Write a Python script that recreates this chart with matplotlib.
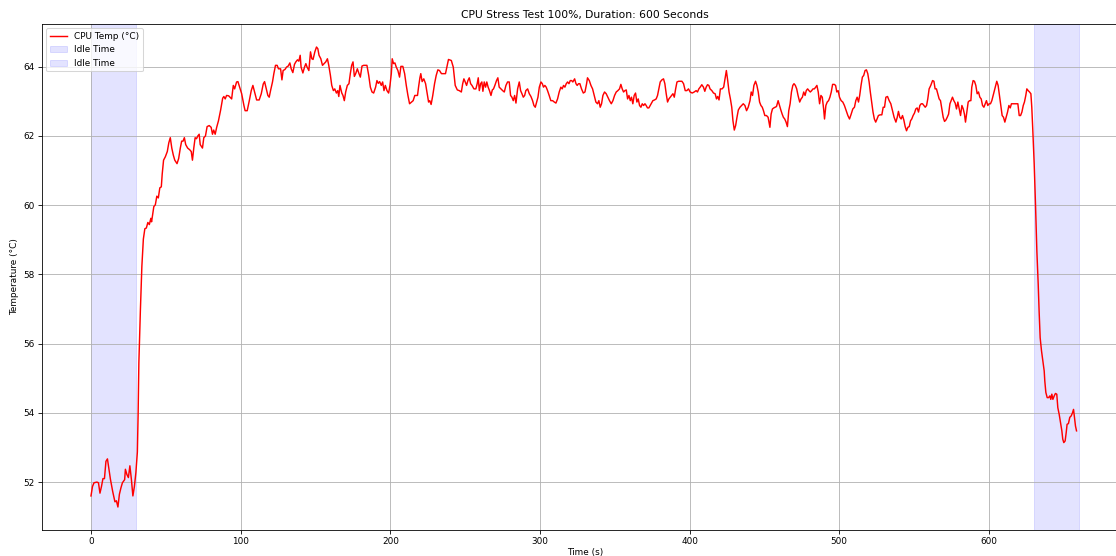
import matplotlib
matplotlib.use("Agg")
import matplotlib.pyplot as plt

title = "CPU Stress Test 100%, Duration: 600 Seconds"
x_label = "Time (s)"
y_label = "Temperature (°C)"
line_label = "CPU Temp (°C)"
idle_label = "Idle Time"
idle_periods = [(0, 30), (630, 660)]

time_s = [
    0, 1, 2, 4, 5, 6, 7, 8, 9, 10, 11, 12, 13, 14.5, 16, 17, 18, 19, 20, 21,
    22.5, 23, 24, 25, 26, 27, 28, 29, 30, 31, 31.5, 32, 33, 34, 35, 36, 37, 38, 39, 40,
    40.5, 41, 42, 43, 44, 45, 46, 47, 47.6, 48.5, 49.7, 51, 52, 53, 54, 55, 56, 57.5, 58.6, 59.7,
    60.6, 61.5, 62.4, 63.3, 64.6, 66, 67, 67.8, 68.7, 69.6, 70.5, 71.4, 72.3, 73, 74.5, 75.4, 76.5, 77.6, 79, 80.3,
    81.2, 82, 83, 84, 85.2, 86.6, 88, 88.8, 89.7, 90.6, 92,
    94, 95.1, 96, 97.3, 98.2, 99, 100.7, 102.2, 103, 104.4, 105.8, 107.1, 108.2, 109.3, 110.7, 112.4, 113.8, 115.1, 116, 116.9,
    118.2, 119.1, 120, 121.3, 122.2, 123.3, 124.4, 125.3, 126.7, 127.6, 128.4, 129.6, 130.7, 131.8, 132.9, 133.8, 134.9, 136, 136.9, 138,
    138.9, 139.8, 140.4, 141.6, 142.7, 143.6, 144.4, 145.6, 146.7, 147.6, 148.4, 149.6, 150.7, 151.6, 152.4, 153.6, 154.7, 155.8, 156.9, 158,
    158.9, 160, 160.9, 162, 162.9, 164, 164.9, 165.6, 166.4, 167.6, 168.4, 169.3, 170.2, 171.3, 172.4, 173.3, 174.2, 175.1, 176, 176.9,
    178, 179.1, 180, 181.1, 182.2, 183.6, 184.4, 185.6, 186.7, 187.8, 188.9, 190.2, 191.1, 192, 192.9, 194, 194.9, 195.8, 196.7, 197.8,
    198.9, 199.8, 200.7, 201.3, 202.2, 203.1, 204, 205.1, 206.2, 207.1, 208.4, 209.6, 210.7, 211.8, 212.9, 214.2, 215.3, 216.4, 217.3, 218.2,
    218.9, 219.8, 220.4, 221.3, 222.4, 223.6, 224.7, 225.6, 226.4, 227.3, 228.4, 229.6, 230.7, 231.8, 232.9, 234.2, 235.6, 236.9, 237.8, 238.9,
    240.8, 242.1, 243.4, 244.8, 246.1, 247.5, 248.4, 249.2, 250.1, 251, 251.9, 252.8, 253.7, 254.6, 255.9, 257.2, 258.1, 258.8, 259.5, 260.4,
    261.2, 261.9, 262.8, 263.7, 264.5, 265.4, 266.3, 267.3, 268.2, 269, 269.9, 271, 271.9, 272.8, 273.9, 275.1, 276.2, 277.3, 278.4, 279.5,
    280.4, 281.3, 282.2, 283.1, 284, 285.1, 286.2, 287.1, 288, 288.9, 289.8, 290.6, 291.8, 292.9, 294, 295.1, 296, 296.9, 297.8, 298.7,
    299.6, 300.7, 301.6, 302.4, 303.3, 304.2, 305.1, 306.2, 307.3, 308.5, 309.6, 310.7, 311.8, 312.9, 314, 314.9, 315.8, 316.7, 317.6, 318.5,
    319.4, 320.3, 321.2, 322, 323.2, 324.1, 324.9, 325.8, 326.7, 327.8, 329, 330.1, 331.2, 331.8, 333, 334.1, 335.2, 336.3, 337.4, 338.5,
    339.4, 340.3, 341.2, 342.1, 343.2, 344.3, 345.4, 346.5, 347.7, 348.8, 349.9, 351, 352.1, 353.2, 354.1, 355, 355.9, 356.8, 357.7, 358.6,
    359.5, 360.4, 361.2, 362.1, 363, 363.9, 364.8, 365.7, 366.6, 367.5, 368.4, 369.3, 370.2, 371, 371.9, 372.8, 373.7, 374.6, 375.5, 376.6,
    377.7, 378.6, 379.5, 380.4, 381.5, 382.6, 383.5, 384.4, 385.3, 386.2,
    388.9, 389.8, 390.7, 391.6, 392.7, 393.8, 394.9, 396, 397.1, 398.2, 399.3, 400.4, 401.8, 403.1, 404.4, 405.3, 406.2, 407.1, 408.2, 409.3,
    410.2, 411.1, 412, 412.9, 413.7, 414.9, 416, 417.1, 418, 418.8, 419.7, 420.6, 421.7, 422.8, 423.7, 424.6, 425.5, 426.4, 427.3, 428.2,
    429, 429.9, 430.8, 431.7, 432.6, 433.7, 434.8, 435.9, 437, 438.1, 439.2, 440.4, 441.2, 442.1, 443, 444.1, 445, 445.9, 446.8, 447.7,
    448.6, 449.4, 450.3, 451.4, 452.5, 453.7, 454.5, 455.4, 456.3, 457.2, 458.1, 459.2, 460.1, 461, 461.9, 462.7, 463.6, 464.5, 465.4, 466.3,
    467.2, 468.1, 469, 469.8, 470.7, 471.6, 472.5, 473.6, 474.5, 475.4, 476.3, 477.2, 478, 478.9, 479.8, 480.7, 481.6, 482.5, 483.4, 484.3,
    485.1, 486, 486.9, 487.8, 488.7, 489.6, 490.2, 491.1, 492, 492.9, 493.8, 494.7, 495.6, 496.7, 497.6, 498.4, 499.3, 500.2, 501.3, 502.4,
    503.5, 504.7, 505.8, 506.9, 508, 509.1, 510.2, 511.1, 512, 512.9, 513.7, 514.6, 515.5, 516.4, 517.3, 518.2, 519.1, 520, 520.8, 521.7,
    522.6, 523.5, 524.4, 525.3, 526.2,
    527.3, 528.5, 529.4, 530.3, 531.2, 532.3, 533.4, 534.5, 535.6, 536.7, 537.9, 538.8, 539.6, 540.5, 541.4, 542.3, 543.2, 544.1, 545, 545.9,
    546.8, 547.7, 548.5, 549.4, 550.3, 551.2, 552.1, 553, 553.9, 554.8, 555.7, 556.6, 557.5, 558.4, 559.2, 560.1, 561.2, 562.4, 563.3, 564.1,
    565, 565.9, 566.8, 567.7, 568.6, 569.5, 570.4, 571.3, 572.2, 573.1, 574, 574.8, 575.7, 576.6, 577.5, 578.4, 579.3, 580.2, 581.1, 582,
    582.9, 583.7, 584.4, 585.3, 586.2, 587.1, 588, 588.6, 589.5, 590.4, 591.3, 592.2, 593.1, 594, 594.9, 595.8, 596.7, 597.6, 598.4, 599.3,
    600.2, 601.1, 602, 602.9, 603.8, 604.7, 605.3, 606.2, 607.1, 608, 608.9, 609.8, 610.7, 611.6, 612.5, 613.4, 614.3, 615.1, 616, 617.1,
    618.3, 619.4, 620.3, 621.2, 622.1, 623, 623.8, 624.7, 625.4, 626.3, 627.2, 628.1, 628.7, 629.4, 630.3, 631.2,
    632.1, 633, 633.6, 634.3, 635.2, 636.1, 637, 637.4, 638.1, 639, 639.9, 640.8, 641.4, 642.1, 642.8, 643.7, 644.5, 645.4, 646.1, 647,
    647.9, 648.8, 649.4, 650.1, 651, 651.7, 652.3, 653.2, 654.1, 655, 655.9, 656.6, 657.2, 657.9, 658.6,
]

temp_c = [
    51.6, 51.87, 51.98, 52.0, 51.98, 51.68, 51.87, 52.1, 52.1, 52.6, 52.67, 52.37, 52.08, 51.73, 51.43, 51.46, 51.28, 51.65, 51.83, 51.98,
    52.07, 52.37, 52.22, 52.13, 52.47, 52.08, 51.6, 51.87, 52.27, 52.87, 53.96, 55.45, 56.94, 58.23, 59.02, 59.32, 59.34, 59.5, 59.44, 59.62,
    59.52, 59.66, 59.96, 60.01, 60.26, 60.21, 60.5, 60.53, 60.9, 61.3, 61.4, 61.55, 61.8, 61.95, 61.65, 61.45, 61.3, 61.2, 61.35, 61.65,
    61.85, 61.85, 61.95, 61.75, 61.65, 61.6, 61.55, 61.3, 61.65, 61.95, 61.92, 62.0, 62.05, 61.75, 61.65, 61.95, 62.0, 62.27, 62.3, 62.25,
    62.05, 62.17, 62.05, 62.25, 62.44, 62.74, 63.09, 63.14, 63.07, 63.17, 63.16,
    63.07, 63.46, 63.36, 63.56, 63.57, 63.46, 63.22, 62.88, 62.73, 62.73, 63.02, 63.31, 63.46, 63.27, 63.04, 63.04, 63.22, 63.5, 63.57, 63.41,
    63.17, 63.12, 63.31, 63.56, 63.8, 64.04, 64.04, 63.94, 63.94, 63.62, 63.89, 63.92, 63.99, 64.02, 64.11, 63.94, 63.83, 64.07, 64.14, 64.2,
    64.16, 64.33, 63.99, 63.82, 63.99, 64.09, 63.99, 63.89, 64.43, 64.23, 64.21, 64.43, 64.57, 64.52, 64.33, 64.23, 64.04, 64.09, 64.14, 64.23,
    64.04, 63.75, 63.46, 63.31, 63.36, 63.24, 63.31, 63.14, 63.46, 63.24, 63.17, 63.02, 63.27, 63.46, 63.51, 63.8, 64.04, 64.14, 63.72, 63.8,
    63.94, 63.8, 63.7, 64.02, 64.04, 64.04, 64.04, 63.75, 63.41, 63.27, 63.24, 63.41, 63.6, 63.52, 63.57, 63.46, 63.56, 63.31, 63.46, 63.31,
    63.24, 63.46, 63.8, 64.23, 64.09, 64.11, 63.99, 63.89, 63.7, 64.01, 64.01, 63.8, 63.46, 63.17, 62.93, 62.98, 63.02, 63.17, 63.17, 63.17,
    63.41, 63.68, 63.8, 63.57, 63.65, 63.51, 63.22, 62.98, 63.02, 62.91, 63.17, 63.51, 63.75, 63.91, 63.89, 63.8, 63.8, 63.8, 63.99, 64.21,
    64.18, 63.99, 63.46, 63.33, 63.31, 63.27, 63.51, 63.65, 63.56, 63.46, 63.6, 63.68, 63.51, 63.46, 63.36, 63.36, 63.51, 63.68, 63.31, 63.51,
    63.56, 63.29, 63.56, 63.41, 63.56, 63.41, 63.31, 63.17, 63.33, 63.36, 63.46, 63.6, 63.68, 63.41, 63.36, 63.31, 63.27, 63.46, 63.56, 63.56,
    63.17, 63.12, 63.02, 63.17, 62.95, 63.36, 63.56, 63.31, 63.22, 63.12, 63.17, 63.31, 63.36, 63.22, 63.14, 63.02, 62.88, 62.83, 62.98, 63.12,
    63.41, 63.56, 63.51, 63.41, 63.46, 63.41, 63.31, 63.17, 63.02, 63.02, 62.98, 62.95, 63.07, 63.27, 63.41, 63.36, 63.46, 63.41, 63.51, 63.56,
    63.51, 63.6, 63.6, 63.56, 63.65, 63.51, 63.46, 63.51, 63.51, 63.36, 63.24, 63.27, 63.51, 63.68, 63.6, 63.46, 63.36, 63.17, 62.98, 62.93,
    63.02, 62.83, 62.93, 63.17, 63.27, 63.22, 63.12, 63.02, 62.93, 63.02, 63.17, 63.27, 63.31, 63.36, 63.49, 63.36, 63.27, 63.31, 63.33, 63.07,
    63.17, 63.02, 63.12, 62.93, 63.17, 63.24, 62.98, 63.07, 62.88, 62.83, 62.93, 62.88, 62.93, 62.88, 62.81, 62.81, 62.88, 62.95, 63.02, 63.04,
    63.07, 63.17, 63.36, 63.56, 63.62, 63.65, 63.51, 63.22, 62.98, 63.07,
    63.22, 63.12, 63.36, 63.56, 63.58, 63.58, 63.58, 63.51, 63.31, 63.31, 63.36, 63.27, 63.24, 63.27, 63.31, 63.27, 63.36, 63.41, 63.48, 63.41,
    63.29, 63.41, 63.48, 63.46, 63.36, 63.31, 63.24, 63.22, 63.07, 63.14, 63.04, 63.36, 63.36, 63.41, 63.65, 63.89, 63.6, 63.27, 63.07, 62.83,
    62.44, 62.17, 62.3, 62.54, 62.75, 62.83, 62.88, 62.93, 62.88, 62.73, 62.83, 63.02, 63.27, 63.17, 63.46, 63.58, 63.46, 63.27, 62.98, 62.88,
    62.83, 62.73, 62.59, 62.59, 62.54, 62.25, 62.63, 62.78, 62.81, 62.83, 62.85, 63.02, 62.88, 62.75, 62.63, 62.54, 62.49, 62.4, 62.27, 62.73,
    62.93, 63.27, 63.46, 63.51, 63.46, 63.36, 63.17, 62.98, 63.07, 63.12, 63.27, 63.17, 63.31, 63.36, 63.31, 63.27, 63.31, 63.36, 63.36, 63.41,
    63.46, 63.27, 62.93, 63.17, 63.12, 62.78, 62.49, 62.88, 62.98, 63.02, 63.12, 63.27, 63.49, 63.49, 63.46, 63.27, 63.31, 63.12, 63.02, 62.98,
    62.88, 62.73, 62.59, 62.49, 62.63, 62.78, 62.83, 63.02, 63.12, 62.98, 63.17, 63.46, 63.7, 63.75, 63.89, 63.91, 63.8, 63.56, 63.27, 62.98,
    62.69, 62.49, 62.4, 62.49, 62.59,
    62.61, 62.61, 62.83, 62.83, 63.12, 63.14, 63.02, 62.93, 62.73, 62.54, 62.4, 62.54, 62.71, 62.54, 62.49, 62.59, 62.46, 62.27, 62.15, 62.25,
    62.27, 62.44, 62.49, 62.59, 62.66, 62.78, 62.81, 62.69, 62.88, 62.93, 62.93, 62.88, 62.83, 62.88, 63.07, 63.36, 63.46, 63.6, 63.58, 63.36,
    63.36, 63.22, 63.07, 63.02, 62.78, 62.54, 62.42, 62.46, 62.54, 62.63, 62.93, 63.02, 63.12, 63.02, 62.95, 62.78, 62.98, 62.78, 62.59, 62.88,
    62.78, 62.63, 62.4, 62.69, 62.98, 63.02, 63.02, 63.41, 63.6, 63.58, 63.46, 63.22, 63.27, 63.12, 63.07, 62.88, 62.83, 62.93, 63.02, 62.88,
    62.93, 62.93, 63.02, 63.17, 63.31, 63.46, 63.58, 63.46, 63.17, 62.88, 62.59, 62.54, 62.4, 62.54, 62.69, 62.88, 62.81, 62.93, 62.93, 62.93,
    62.93, 62.93, 62.59, 62.59, 62.69, 62.88, 62.98, 63.17, 63.36, 63.31, 63.27, 63.22, 62.83, 62.15, 61.2, 60.0,
    58.67, 57.71, 56.94, 56.17, 55.79, 55.5, 55.21, 54.92, 54.59, 54.44, 54.44, 54.49, 54.39, 54.54, 54.39, 54.49, 54.56, 54.54, 54.15, 53.96,
    53.72, 53.48, 53.24, 53.14, 53.19, 53.43, 53.67, 53.69, 53.87, 53.91, 54.0, 54.1, 53.87, 53.62, 53.48,
]

x_ticks = [0, 100, 200, 300, 400, 500, 600]
y_ticks = [52, 54, 56, 58, 60, 62, 64]

DPI = 74.4
plt.rcParams["axes.titlesize"] = 10.4
plt.rcParams["axes.labelsize"] = 8.6
plt.rcParams["xtick.labelsize"] = 8.6
plt.rcParams["ytick.labelsize"] = 8.6
plt.rcParams["legend.fontsize"] = 8.6

fig = plt.figure(figsize=(1116 / DPI, 556 / DPI), dpi=DPI)
ax = fig.add_axes([41.6 / 1116, 1 - 530 / 556, 1086.4 / 1116, 506 / 556])

ax.plot(time_s, temp_c, color="red", linewidth=1.4, label=line_label)
for start, end in idle_periods:
    ax.axvspan(start, end, color="blue", alpha=0.11, label=idle_label)

ax.set_xlim(-33, 693)
ax.set_xticks(x_ticks)
ax.set_yticks(y_ticks)
ax.set_title(title)
ax.set_xlabel(x_label, labelpad=2)
ax.set_ylabel(y_label)
ax.grid(True)
ax.legend(loc="upper left")

fig.savefig("out.png", dpi=DPI)
